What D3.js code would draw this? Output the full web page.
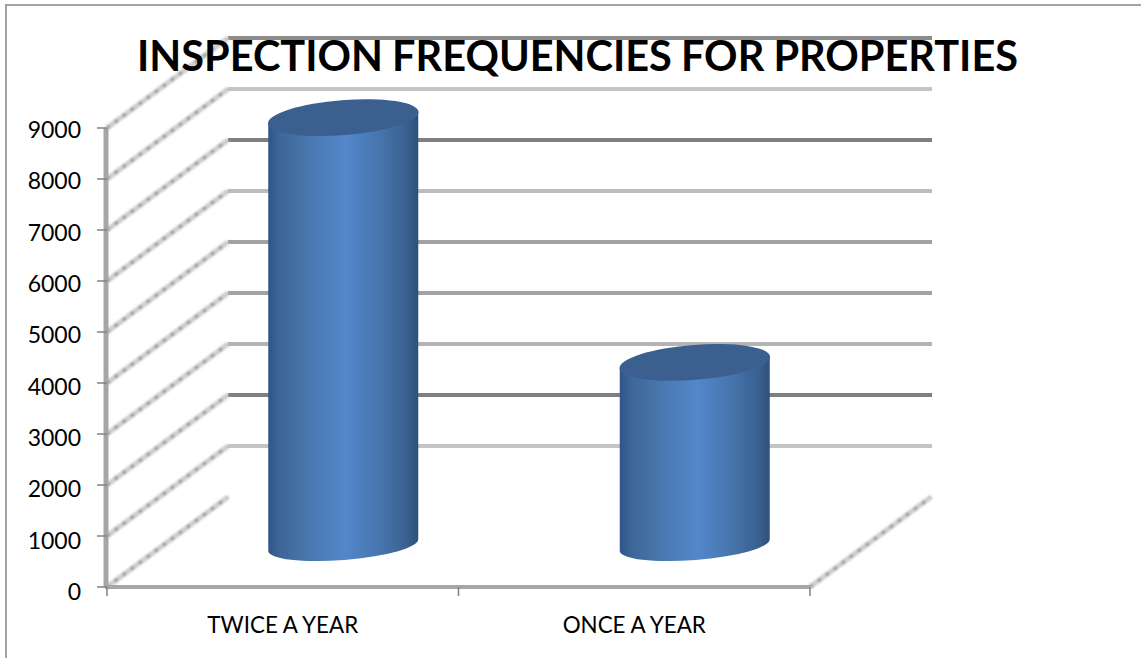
<!DOCTYPE html>
<html><head><meta charset="utf-8">
<script src="https://cdn.jsdelivr.net/npm/d3@7"></script>
<style>html,body{margin:0;padding:0;background:#fff}svg{display:block}text{font-family:Lato,"Open Sans",sans-serif;fill:#000}</style>
</head><body><svg id="c" width="1141" height="658"></svg>
<script>
const categories = ["TWICE A YEAR","ONCE A YEAR"];
const values = [8380,3580];
const tickValues = [0,1000,2000,3000,4000,5000,6000,7000,8000,9000];
const gridShades = ["#c4c4c4","#7f7f7f","#b4b4b4","#a2a2a2","#a2a2a2","#bcbcbc","#7f7f7f","#c4c4c4","#8c8c8c"];
const titleText = "INSPECTION FREQUENCIES FOR PROPERTIES";

const svg = d3.select("#c");
const y = d3.scaleLinear().domain([0,9000]).range([587,128]);
const yLabel = d3.scaleLinear().domain([0,9000]).range([600,138]);
const x = d3.scaleBand().domain(categories).range([107,810]);
const depth = {dx:121, dy:-90};
const defs = svg.append("defs");
defs.append("filter").attr("id","soft").append("feGaussianBlur").attr("stdDeviation",0.5);
defs.append("filter").attr("id","soft2").append("feGaussianBlur").attr("stdDeviation",0.9);
const grad = defs.append("linearGradient").attr("id","cyl");
[[0,"#2f5688"],[0.08,"#3d6797"],[0.3,"#4a7ab3"],[0.52,"#5387ca"],[0.75,"#4674ac"],[0.93,"#38608f"],[1,"#2c4f7c"]]
 .forEach(([o,c])=>grad.append("stop").attr("offset",o).attr("stop-color",c));

svg.append("line").attr("x1",5).attr("x2",1141).attr("y1",5).attr("y2",5).attr("stroke","#858585").attr("stroke-width",1.6);
svg.append("line").attr("x1",6).attr("x2",6).attr("y1",5).attr("y2",658).attr("stroke","#9a9a9a").attr("stroke-width",1.8);

const g = svg.append("g").attr("filter","url(#soft)");
tickValues.slice(1).forEach((t,i)=>{
  g.append("line").attr("x1",x.range()[0]+depth.dx).attr("x2",x.range()[1]+depth.dx+1)
   .attr("y1",y(t)+depth.dy).attr("y2",y(t)+depth.dy)
   .attr("stroke",gridShades[i]).attr("stroke-width",4);
});
const side = svg.append("g").attr("filter","url(#soft2)");
const diag=(x0,t)=>{
  const seg=(s,w,d)=>side.append("line").attr("x1",x0).attr("y1",y(t))
    .attr("x2",x0+depth.dx).attr("y2",y(t)+depth.dy)
    .attr("stroke",s).attr("stroke-width",w).attr("stroke-dasharray",d);
  seg("#cdcdcd",5,null); seg("#8a8a8a",3,"3 7");
};
tickValues.forEach(t=>diag(x.range()[0],t));
diag(x.range()[1],0);
const front = svg.append("g").attr("filter","url(#soft)");
front.append("line").attr("x1",106).attr("x2",106).attr("y1",y(9000)).attr("y2",y(0))
 .attr("stroke","#a6a6a6").attr("stroke-width",5);
front.append("line").attr("x1",x.range()[0]-2).attr("x2",x.range()[1]).attr("y1",y(0)).attr("y2",y(0))
 .attr("stroke","#a6a6a6").attr("stroke-width",4);
tickValues.forEach(t=>front.append("line").attr("x1",97).attr("x2",107).attr("y1",y(t)).attr("y2",y(t)).attr("stroke","#808080").attr("stroke-width",1.5));
[0,1,2].forEach(i=>{
  const xx=x.range()[0]+i*x.bandwidth();
  front.append("line").attr("x1",xx).attr("x2",xx).attr("y1",y(0)).attr("y2",y(0)+9).attr("stroke","#808080").attr("stroke-width",1.5);
});
const rx=75, ryTop=17.5, ryBot=15, tilt=-4.5;
const mid=v=>y(v)+depth.dy/2;
categories.forEach((c,i)=>{
  const cx=x(c)+x.bandwidth()/2+depth.dx/2, top=mid(values[i])+3, bot=mid(0)+3;
  const off=rx*Math.sin(tilt*Math.PI/180);
  const b=front.append("g");
  b.append("path").attr("fill","url(#cyl)")
   .attr("d",`M${cx-rx},${top-off} L${cx-rx},${bot-off} A${rx},${ryBot} ${tilt} 0 0 ${cx+rx},${bot+off} L${cx+rx},${top+off} Z`);
  b.append("ellipse").attr("rx",rx+0.5).attr("ry",ryTop)
   .attr("transform",`translate(${cx},${top}) rotate(${tilt})`).attr("fill","#3a608f");
});
svg.selectAll("text.ytick").data(tickValues).join("text").attr("class","ytick")
 .attr("x",81).attr("y",d=>yLabel(d)).attr("text-anchor","end").attr("font-size",23).text(d=>d);
svg.selectAll("text.xtick").data(categories).join("text").attr("class","xtick")
 .attr("x",d=>x(d)+x.bandwidth()/2).attr("y",633).attr("text-anchor","middle").attr("font-size",22.4).text(d=>d);
svg.append("text").attr("x",577.5).attr("y",71).attr("text-anchor","middle")
 .attr("font-size",42).attr("font-weight",700).attr("word-spacing",-1).attr("textLength",881).attr("lengthAdjust","spacingAndGlyphs").text(titleText);
</script></body></html>
